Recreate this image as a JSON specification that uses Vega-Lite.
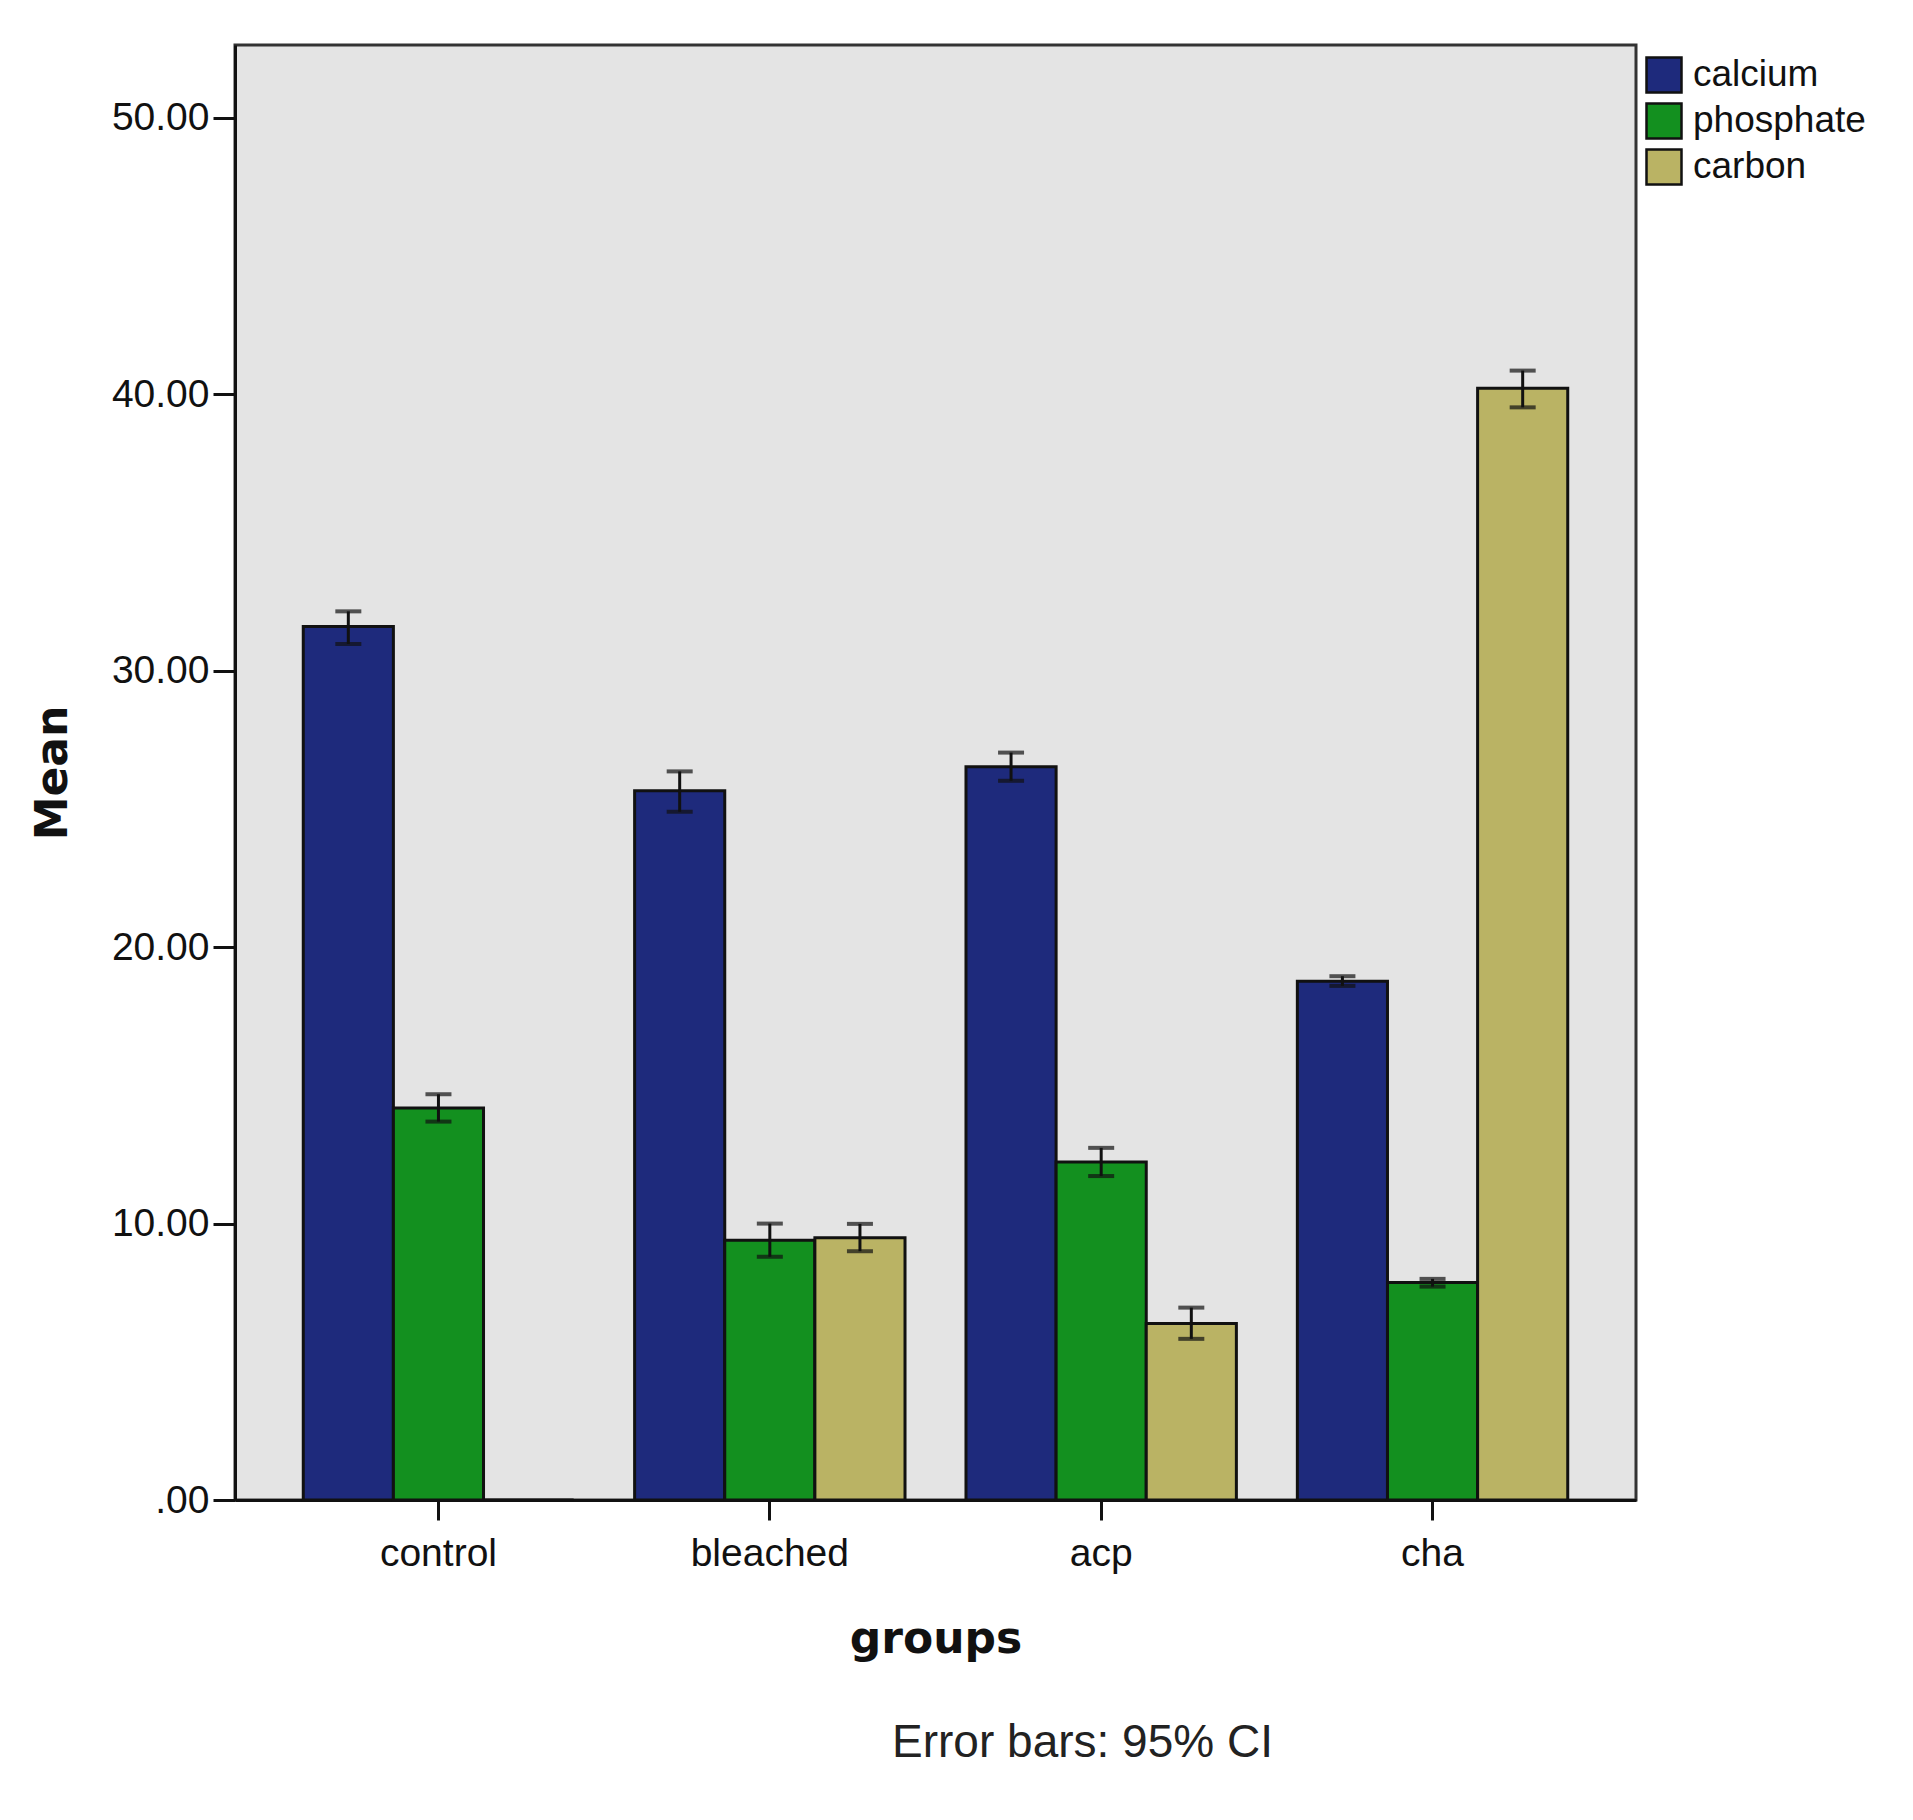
{
  "$schema": "https://vega.github.io/schema/vega-lite/v6.json",
  "width": 1401,
  "height": 1455,
  "autosize": {"type": "none"},
  "padding": {"left": 235, "top": 45, "right": 277, "bottom": 320},
  "background": "white",
  "title": {
    "text": "Error bars: 95% CI",
    "orient": "bottom",
    "anchor": "middle",
    "dx": 147,
    "offset": 60,
    "font": "Liberation Sans",
    "fontSize": 46,
    "fontWeight": "normal",
    "color": "#222222"
  },
  "data": {
    "values": [
      {"group": "control", "element": "calcium", "mean": 31.6, "lo": 30.97, "hi": 32.15},
      {"group": "control", "element": "phosphate", "mean": 14.18, "lo": 13.69, "hi": 14.68},
      {"group": "control", "element": "carbon", "mean": 0, "lo": null, "hi": null},
      {"group": "bleached", "element": "calcium", "mean": 25.66, "lo": 24.9, "hi": 26.36},
      {"group": "bleached", "element": "phosphate", "mean": 9.4, "lo": 8.8, "hi": 10.0},
      {"group": "bleached", "element": "carbon", "mean": 9.49, "lo": 9.0, "hi": 9.99},
      {"group": "acp", "element": "calcium", "mean": 26.53, "lo": 26.02, "hi": 27.04},
      {"group": "acp", "element": "phosphate", "mean": 12.23, "lo": 11.72, "hi": 12.74},
      {"group": "acp", "element": "carbon", "mean": 6.39, "lo": 5.83, "hi": 6.96},
      {"group": "cha", "element": "calcium", "mean": 18.77, "lo": 18.6, "hi": 18.95},
      {"group": "cha", "element": "phosphate", "mean": 7.87, "lo": 7.72, "hi": 8.0},
      {"group": "cha", "element": "carbon", "mean": 40.22, "lo": 39.53, "hi": 40.86}
    ]
  },
  "encoding": {
    "x": {
      "field": "group",
      "type": "nominal",
      "sort": ["control", "bleached", "acp", "cha"],
      "scale": {"paddingInner": 0.184, "paddingOuter": 0.206},
      "axis": {
        "title": "groups",
        "titleFont": "DejaVu Sans",
        "titleFontWeight": "bold",
        "titleFontSize": 44,
        "titleColor": "#111111",
        "titlePadding": 44,
        "labelAngle": 0,
        "labelFont": "Liberation Sans",
        "labelFontSize": 39,
        "labelColor": "#111111",
        "labelPadding": 14,
        "tickSize": 20,
        "tickWidth": 3,
        "tickColor": "#111111",
        "domainColor": "#111111",
        "domainWidth": 3,
        "grid": false
      }
    },
    "xOffset": {
      "field": "element",
      "type": "nominal",
      "sort": ["calcium", "phosphate", "carbon"],
      "scale": {"paddingInner": 0, "paddingOuter": 0}
    }
  },
  "layer": [
    {
      "mark": {"type": "bar", "stroke": "#111111", "strokeWidth": 3, "opacity": 1},
      "encoding": {
        "y": {
          "field": "mean",
          "type": "quantitative",
          "scale": {"domain": [0, 52.64], "nice": false},
          "axis": {
            "title": "Mean",
            "titleFont": "DejaVu Sans",
            "titleFontWeight": "bold",
            "titleFontSize": 44,
            "titleColor": "#111111",
            "titlePadding": 36,
            "values": [0, 10, 20, 30, 40, 50],
            "labelExpr": "datum.value == 0 ? '.00' : format(datum.value, '.2f')",
            "labelFont": "Liberation Sans",
            "labelFontSize": 39,
            "labelColor": "#111111",
            "labelPadding": 4,
            "tickSize": 22,
            "tickWidth": 3,
            "tickColor": "#111111",
            "domainColor": "#111111",
            "domainWidth": 3,
            "grid": false
          }
        },
        "color": {
          "field": "element",
          "type": "nominal",
          "sort": ["calcium", "phosphate", "carbon"],
          "scale": {
            "domain": ["calcium", "phosphate", "carbon"],
            "range": ["#1e2a7c", "#13901f", "#bab364"]
          },
          "legend": {
            "title": null,
            "orient": "none",
            "legendX": 1410,
            "legendY": 11,
            "symbolType": "square",
            "symbolSize": 1225,
            "symbolStrokeColor": "#111111",
            "symbolStrokeWidth": 2.5,
            "symbolOpacity": 1,
            "labelFont": "Liberation Sans",
            "labelFontSize": 37,
            "labelColor": "#111111",
            "labelOffset": 10,
            "labelLimit": 0,
            "rowPadding": 0,
            "padding": 0
          }
        }
      }
    },
    {
      "transform": [{"filter": "datum.lo != null"}],
      "mark": {"type": "rule", "color": "#111111", "strokeWidth": 3},
      "encoding": {
        "y": {"field": "lo", "type": "quantitative"},
        "y2": {"field": "hi"}
      }
    },
    {
      "transform": [{"filter": "datum.lo != null"}],
      "mark": {"type": "tick", "color": "#111111", "size": 26, "thickness": 4, "orient": "horizontal"},
      "encoding": {
        "y": {"field": "lo", "type": "quantitative"}
      }
    },
    {
      "transform": [{"filter": "datum.hi != null"}],
      "mark": {"type": "tick", "color": "#111111", "size": 26, "thickness": 4, "orient": "horizontal"},
      "encoding": {
        "y": {"field": "hi", "type": "quantitative"}
      }
    }
  ],
  "config": {
    "view": {"fill": "#e4e4e4", "stroke": "#333333", "strokeWidth": 3}
  }
}
